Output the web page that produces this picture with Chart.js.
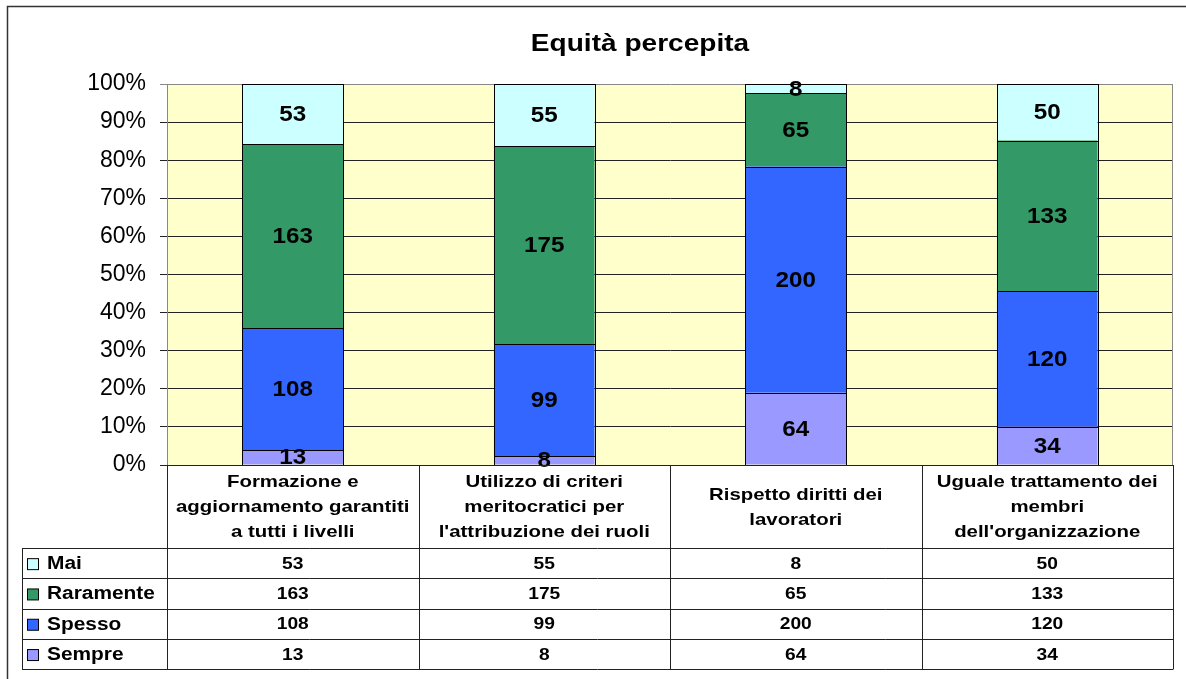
<!DOCTYPE html>
<html>
<head>
<meta charset="utf-8">
<script src="https://cdn.jsdelivr.net/npm/chart.js@4/dist/chart.umd.min.js"></script>
<style>
  html, body { margin: 0; padding: 0; background: #fff; }
  #wrap { width: 1186px; height: 679px; }
</style>
</head>
<body>
<div id="wrap"><canvas id="chart"></canvas></div>
<script>
const title = "Equità percepita"
const categories = [
  ["Formazione e", "aggiornamento garantiti", "a tutti i livelli"],
  ["Utilizzo di criteri", "meritocratici per", "l'attribuzione dei ruoli"],
  ["Rispetto diritti dei", "lavoratori"],
  ["Uguale trattamento dei", "membri", "dell'organizzazione"]
]
const sempre = [13, 8, 64, 34]
const spesso = [108, 99, 200, 120]
const raramente = [163, 175, 65, 133]
const mai = [53, 55, 8, 50]
const yTicks = [0, 10, 20, 30, 40, 50, 60, 70, 80, 90, 100]

const FONT = "'Liberation Sans', Arial, sans-serif"

const totals = categories.map((c, i) => sempre[i] + spesso[i] + raramente[i] + mai[i])
const pct = arr => arr.map((v, i) => v / totals[i] * 100)

// bottom-to-top stacking order
const series = [
  { label: "Sempre", raw: sempre, color: "#9999FF" },
  { label: "Spesso", raw: spesso, color: "#3366FF" },
  { label: "Raramente", raw: raramente, color: "#339966" },
  { label: "Mai", raw: mai, color: "#CCFFFF" }
]

// draw text stretched horizontally like the original
function sText(ctx, txt, x, y, sx, align) {
  ctx.save()
  ctx.translate(x, y)
  ctx.scale(sx, 1)
  ctx.textAlign = align
  ctx.textBaseline = "middle"
  ctx.fillText(txt, 0, 0)
  ctx.restore()
}

const backdrop = {
  id: "backdrop",
  beforeDraw(chart) {
    const { ctx, chartArea: a } = chart
    ctx.save()
    ctx.fillStyle = "#fff"
    ctx.fillRect(0, 0, chart.width, chart.height)
    ctx.fillStyle = "#FFFFCC"
    ctx.fillRect(a.left, a.top, a.right - a.left, a.bottom - a.top)
    ctx.restore()
  },
  beforeDatasetsDraw(chart) {
    const { ctx, chartArea: a } = chart
    ctx.save()
    ctx.strokeStyle = "#888"
    ctx.lineWidth = 1
    ctx.beginPath()
    ctx.moveTo(Math.round(a.right) - 0.5, a.top)
    ctx.lineTo(Math.round(a.right) - 0.5, a.bottom)
    ctx.stroke()
    ctx.restore()
  }
}

// crisp black outlines round every bar segment, then the value labels
const valueLabels = {
  id: "valueLabels",
  afterDatasetsDraw(chart) {
    const { ctx } = chart
    ctx.save()
    ctx.strokeStyle = "#000"
    ctx.lineWidth = 1
    chart.data.datasets.forEach((ds, di) => {
      chart.getDatasetMeta(di).data.forEach(el => {
        const l = Math.round(el.x - el.width / 2), r = Math.round(el.x + el.width / 2)
        const t = Math.round(Math.min(el.y, el.base)), b = Math.round(Math.max(el.y, el.base))
        ctx.strokeRect(l + 0.5, t + 0.5, r - l, b - t)
      })
    })
    ctx.fillStyle = "#000"
    ctx.font = "bold 22px " + FONT
    chart.data.datasets.forEach((ds, di) => {
      chart.getDatasetMeta(di).data.forEach((el, i) => {
        sText(ctx, String(series[di].raw[i]), el.x, (el.y + el.base) / 2 + 1, 1.1, "center")
      })
    })
    ctx.restore()
  }
}

const dataTable = {
  id: "dataTable",
  afterDraw(chart) {
    const { ctx, chartArea: a } = chart
    const xs = chart.scales.x
    const colW = (a.right - a.left) / categories.length
    const headerBottom = 548
    const rowH = 30.3
    const tableLeft = 22
    const rows = series.slice().reverse()
    const tableBottom = headerBottom + rowH * rows.length

    ctx.save()
    ctx.strokeStyle = "#222"
    ctx.lineWidth = 1
    ctx.beginPath()
    // bottom edge of plot / top of header
    ctx.moveTo(a.left, Math.round(a.bottom) + 0.5)
    ctx.lineTo(a.right, Math.round(a.bottom) + 0.5)
    // horizontal row lines
    for (let r = 0; r <= rows.length; r++) {
      const y = Math.round(headerBottom + r * rowH) + 0.5
      ctx.moveTo(tableLeft, y)
      ctx.lineTo(a.right, y)
    }
    // vertical column lines
    for (let c = 0; c <= categories.length; c++) {
      const x = Math.round(a.left + c * colW) + 0.5
      ctx.moveTo(x, a.bottom)
      ctx.lineTo(x, Math.round(tableBottom) + 0.5)
    }
    ctx.moveTo(tableLeft + 0.5, headerBottom)
    ctx.lineTo(tableLeft + 0.5, Math.round(tableBottom) + 0.5)
    ctx.stroke()

    ctx.fillStyle = "#000"
    // category headers
    ctx.font = "bold 17px " + FONT
    const headMid = (a.bottom + headerBottom) / 2
    categories.forEach((lines, i) => {
      const cx = xs.getPixelForValue(i)
      const y0 = headMid - (lines.length - 1) * 25 / 2
      lines.forEach((ln, k) => sText(ctx, ln, cx, y0 + k * 25 + 1, 1.2, "center"))
    })

    // rows: legend key + values
    rows.forEach((s, r) => {
      const cy = headerBottom + r * rowH + rowH / 2 + 1
      ctx.fillStyle = s.color
      ctx.fillRect(27.5, cy - 5.5, 11, 11)
      ctx.strokeStyle = "#000"
      ctx.strokeRect(27.5, cy - 5.5, 11, 11)
      ctx.fillStyle = "#000"
      ctx.font = "bold 18px " + FONT
      sText(ctx, s.label, 47, cy, 1.16, "left")
      ctx.font = "bold 17px " + FONT
      s.raw.forEach((v, i) => sText(ctx, String(v), xs.getPixelForValue(i), cy, 1.13, "center"))
    })

    // title
    ctx.font = "bold 23px " + FONT
    sText(ctx, title, 640, 45, 1.22, "center")

    // outer frame (top and left edges visible)
    ctx.strokeStyle = "#333"
    ctx.lineWidth = 1.5
    ctx.beginPath()
    ctx.moveTo(7.5, chart.height)
    ctx.lineTo(7.5, 6.5)
    ctx.lineTo(chart.width, 6.5)
    ctx.stroke()
    ctx.restore()
  }
}

new Chart(document.getElementById("chart"), {
  type: "bar",
  data: {
    labels: categories.map(c => c.join(" ")),
    datasets: series.map(s => ({
      label: s.label,
      data: pct(s.raw),
      backgroundColor: s.color,
      borderWidth: 0,
      barPercentage: 0.4,
      categoryPercentage: 1
    }))
  },
  options: {
    responsive: true,
    maintainAspectRatio: false,
    animation: false,
    layout: { padding: { top: 84, right: 13, bottom: 214, left: 0 } },
    plugins: {
      legend: { display: false },
      title: { display: false },
      tooltip: { enabled: false }
    },
    scales: {
      x: {
        display: false,
        stacked: true
      },
      y: {
        stacked: true,
        min: 0,
        max: 100,
        afterBuildTicks: scale => { scale.ticks = yTicks.map(v => ({ value: v })) },
        afterFit: scale => { scale.width = 167 },
        ticks: {
          color: "#000",
          padding: 14,
          font: { family: FONT, size: 23 },
          callback: v => v + "%"
        },
        grid: {
          color: ctx => ctx.tick && ctx.tick.value === 100 ? "#888" : "#222",
          lineWidth: 1,
          tickLength: 7,
          drawOnChartArea: true
        },
        border: { color: "#888", width: 1 }
      }
    }
  },
  plugins: [backdrop, valueLabels, dataTable]
})
</script>
</body>
</html>
